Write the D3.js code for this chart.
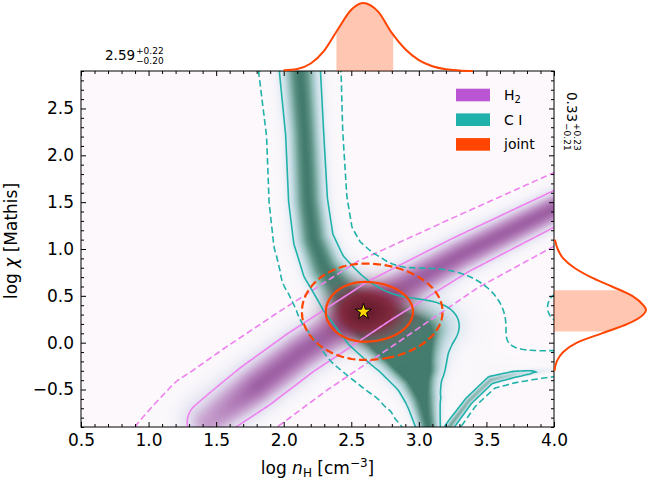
<!DOCTYPE html>
<html>
<head>
<meta charset="utf-8">
<script src="https://cdn.jsdelivr.net/npm/d3@7"></script>
<style>
  body { margin: 0; background: #fff; }
  svg { font-family: "DejaVu Sans", sans-serif; }
</style>
</head>
<body>
<svg id="chart" width="650" height="482"></svg>
<script>
// values
var xTicks = [0.5, 1.0, 1.5, 2.0, 2.5, 3.0, 3.5, 4.0];
var yTicks = [-0.5, 0.0, 0.5, 1.0, 1.5, 2.0, 2.5];

// H2 posterior: ridge line, strength along it and width on each side (dex along x)
var h2Ridge = [[0.90,-1.52],[1.10,-1.28],[1.45,-0.85],[1.80,-0.47],[2.12,-0.11],[2.71,0.45],[3.30,0.93],[4.00,1.43],[4.40,1.70]];
var h2Amp = [0.05,0.12,0.85,1,1,1,1,1,1];
var h2SigmaUp = [0.17,0.18,0.20,0.185,0.17,0.166,0.137,0.122,0.118];
var h2SigmaDown = [0.165,0.165,0.165,0.165,0.17,0.166,0.137,0.122,0.118];
// faint wing on the upper side of the low end
var h2WingAmp = [0.14,0.21,0.27,0.18,0.0];
var h2WingUp = [0.35,0.35,0.33,0.28,0.25];
var h2WingDown = [0.05,0.05,0.05,0.05,0.05];

// CI posterior: main ridge, the thin tongue to the lower right and two shoulders
var ciRidge = [[2.10,3.30],[2.12,2.90],[2.155,2.23],[2.18,1.52],[2.22,1.10],[2.30,0.80],[2.45,0.50],[2.63,0.20],[2.85,-0.08],[2.98,-0.35],[3.03,-0.60],[3.07,-0.90],[3.09,-1.20]];
var ciSigma = [0.155,0.152,0.141,0.144,0.148,0.163,0.185,0.192,0.185,0.160,0.125,0.09,0.085];
var ciTongue = [[3.15,-1.05],[3.25,-0.85],[3.37,-0.62],[3.53,-0.40],[3.70,-0.34],[3.85,-0.31],[4.10,-0.27]];
var tongueAmp = [0.90,0.90,0.86,0.82,0.76,0.62,0.40];
var tongueSigma = [0.035,0.035,0.032,0.032,0.032,0.032,0.032];
var shelfAmp = [0.30,0.30,0.30,0.30,0.30,0.28,0.25];
var shelfUp = [0.104,0.104,0.111,0.118,0.118,0.118,0.118];
var shelfDown = [0.030,0.030,0.030,0.030,0.030,0.030,0.030];
var ciBlobs = [[3.10,0.20,0.296,0.32,0.72],[4.07,0.38,0.089,0.129,0.30]]; // x, y, sx, sy, amp

// joint posterior
var jointCenter = [2.60, 0.33];
var jointSigmaX = [0.19, 0.235];   // left, right
var jointSigmaY = [0.21, 0.21];    // down, up
var bestFit = [2.59, 0.33];

// contour levels (2 sigma, 1 sigma)
var bandLevels = [0.135, 0.607];
var jointLevels = [0.05, 0.317];

// marginals
var margX = [2.0,2.1,2.2,2.3,2.4,2.5,2.585,2.7,2.8,2.9,3.0,3.1,3.2,3.3,3.4];
var margXh = [0.01,0.03,0.11,0.30,0.61,0.90,1.0,0.87,0.56,0.32,0.16,0.07,0.025,0.008,0.0];
var margY = [-0.3,-0.2,-0.1,0.0,0.1,0.2,0.3,0.35,0.4,0.5,0.6,0.7,0.8,0.9,1.0,1.1];
var margYh = [0.005,0.03,0.10,0.25,0.52,0.80,0.97,1.0,0.97,0.85,0.63,0.40,0.22,0.10,0.04,0.01];
var xStat = [2.59, 0.20, 0.22];
var yStat = [0.33, 0.21, 0.23];

var legendNames = ["H", "C I", "joint"];
var legendColors = ["#ba55d3", "#20b2aa", "#ff4500"];

// ------------------------------------------------------------
var L = 81, R = 554, T = 71, B = 427;
var svg = d3.select("#chart");
var x = d3.scaleLinear().domain([0.5, 4.0]).range([L, R]);
var y = d3.scaleLinear().domain([-0.9, 2.9]).range([B, T]);
var kx = x(1) - x(0);

function prepRidge(pts, sA, sB, amp) {
    return {
        p: pts.map(function(d) { return [x(d[0]), y(d[1])]; }),
        a: sA.map(function(s) { return s * kx; }),
        b: (sB || sA).map(function(s) { return s * kx; }),
        amp: amp
    };
}
var h2R = prepRidge(h2Ridge, h2SigmaUp, h2SigmaDown, h2Amp);
var h2W = prepRidge(h2Ridge.slice(0, 5), h2WingUp, h2WingDown, h2WingAmp);
var ciR = prepRidge(ciRidge, ciSigma);
var tcR = prepRidge(ciTongue, tongueSigma, null, tongueAmp);
var tsR = prepRidge(ciTongue, shelfUp, shelfDown, shelfAmp);

function ridgeAt(r, px, py) {
    var best = 0, p = r.p;
    for (var i = 0; i < p.length - 1; i++) {
        var ax = p[i][0], ay = p[i][1], dx = p[i+1][0] - ax, dy = p[i+1][1] - ay;
        var t = ((px - ax) * dx + (py - ay) * dy) / (dx * dx + dy * dy);
        t = Math.max(0, Math.min(1, t));
        var qx = ax + t * dx - px, qy = ay + t * dy - py;
        var cross = dx * (py - ay) - dy * (px - ax);
        var w = cross < 0 ? r.a[i] + (r.a[i+1] - r.a[i]) * t : r.b[i] + (r.b[i+1] - r.b[i]) * t;
        var a = r.amp ? r.amp[i] + (r.amp[i+1] - r.amp[i]) * t : 1;
        var v = a * Math.exp(-0.5 * (qx * qx + qy * qy) / (w * w));
        if (v > best) best = v;
    }
    return best;
}
function h2At(px, py) { return Math.max(ridgeAt(h2R, px, py), ridgeAt(h2W, px, py)); }
function ciAt(px, py) {
    var v = Math.max(ridgeAt(ciR, px, py), ridgeAt(tcR, px, py), ridgeAt(tsR, px, py));
    var X = x.invert(px), Y = y.invert(py);
    ciBlobs.forEach(function(b) {
        var u = (X - b[0]) / b[2], w = (Y - b[1]) / b[3];
        v += b[4] * Math.exp(-0.5 * (u * u + w * w));
    });
    return v;
}
function jointAt(px, py) {
    var dx = x.invert(px) - jointCenter[0], dy = y.invert(py) - jointCenter[1];
    var sx = dx < 0 ? jointSigmaX[0] : jointSigmaX[1];
    var sy = dy < 0 ? jointSigmaY[0] : jointSigmaY[1];
    return Math.exp(-0.5 * ((dx / sx) * (dx / sx) + (dy / sy) * (dy / sy)));
}

// colour tables
function lut(dom, cols) {
    var s = d3.scaleLinear().domain(dom).range(cols).clamp(true);
    return d3.range(256).map(function(i) { return d3.rgb(s(i / 255)); });
}
var h2Lut = lut([0,0.1,0.3,0.55,0.8,1], ["#ffffff","#eff3f8","#e0d9ec","#c9a6d1","#b37fb9","#a064a6"]);
var ciLut = lut([0,0.1,0.3,0.55,0.8,1], ["#ffffff","#eaf4f7","#c6e1e6","#93c1b9","#62998b","#44806f"]);
var jLut = lut([0,0.5,1], ["#b45a6e","#952e45","#6e1a2c"]);
var bg = d3.rgb("#fcf8fc");
function idx(v) { return Math.max(0, Math.min(255, Math.round(v * 255))); }
function shadeH2(v) { return Math.pow(Math.min(1, v), 3.2); }
function shadeCI(v) { return Math.pow(Math.min(1, v), 4); }

// density image
var cw = R - L, ch = B - T;
var canvas = document.createElement("canvas");
canvas.width = cw; canvas.height = ch;
var ctx = canvas.getContext("2d");
var img = ctx.createImageData(cw, ch);
for (var j = 0; j < ch; j++) {
    for (var i = 0; i < cw; i++) {
        var px = L + i + 0.5, py = T + j + 0.5;
        var hc = h2Lut[idx(shadeH2(h2At(px, py)))], cc = ciLut[idx(shadeCI(ciAt(px, py)))];
        var jv = jointAt(px, py), jc = jLut[idx(jv)];
        var al = Math.min(0.92, 1.6 * Math.pow(jv, 1.5));
        var r = bg.r * hc.r / 255 * cc.r / 255,
            g = bg.g * hc.g / 255 * cc.g / 255,
            b = bg.b * hc.b / 255 * cc.b / 255;
        var k = (j * cw + i) * 4;
        img.data[k] = r * (1 - al) + jc.r * al;
        img.data[k+1] = g * (1 - al) + jc.g * al;
        img.data[k+2] = b * (1 - al) + jc.b * al;
        img.data[k+3] = 255;
    }
}
ctx.putImageData(img, 0, 0);

svg.append("clipPath").attr("id", "plotClip")
    .append("rect").attr("x", L).attr("y", T).attr("width", cw).attr("height", ch);

svg.append("image").attr("x", L).attr("y", T).attr("width", cw).attr("height", ch)
    .attr("preserveAspectRatio", "none")
    .attr("href", canvas.toDataURL());

// contours
var step = 2, nx = Math.ceil(cw / step), ny = Math.ceil(ch / step);
function grid(fn) {
    var v = new Float64Array(nx * ny);
    for (var j = 0; j < ny; j++)
        for (var i = 0; i < nx; i++)
            v[j * nx + i] = fn(L + (i + 0.5) * step, T + (j + 0.5) * step);
    return v;
}
function contourLines(values, level) {
    var c = d3.contours().size([nx, ny]).thresholds([level])(values)[0];
    var onEdge = function(p) { return p[0] <= 0 || p[0] >= nx || p[1] <= 0 || p[1] >= ny; };
    var segs = [];
    c.coordinates.forEach(function(poly) {
        poly.forEach(function(ring) {
            var cur = [];
            ring.forEach(function(p) {
                if (cur.length && onEdge(p) && onEdge(cur[cur.length - 1])) {
                    if (cur.length > 1) segs.push(cur);
                    cur = [];
                }
                cur.push(p);
            });
            if (cur.length > 1) segs.push(cur);
        });
    });
    return segs.map(function(s) { return s.map(function(p) { return [L + p[0] * step, T + p[1] * step]; }); });
}
var line = d3.line();
var cg = svg.append("g").attr("clip-path", "url(#plotClip)").attr("fill", "none");
function drawContours(values, levels, color, width, dash) {
    levels.forEach(function(lv, li) {
        cg.selectAll(null).data(contourLines(values, lv)).enter().append("path")
            .attr("d", line)
            .attr("stroke", color)
            .attr("stroke-width", width)
            .attr("stroke-dasharray", li === 0 ? dash : null);
    });
}
drawContours(grid(h2At), bandLevels, "#ee82ee", 1.6, "6.5,3.3");
drawContours(grid(ciAt), bandLevels, "#20b2aa", 1.6, "6.5,3.3");
drawContours(grid(jointAt), jointLevels, "#ff4500", 2.2, "8,3.6");

// best fit star
svg.append("path")
    .attr("transform", "translate(" + x(bestFit[0]) + "," + y(bestFit[1]) + ")")
    .attr("d", d3.symbol().type(d3.symbolStar).size(80)())
    .attr("fill", "#ffd700").attr("stroke", "#000").attr("stroke-width", 1);

// axes
function ax(gen, tx, ty, vals, size, labels) {
    var g = svg.append("g").attr("transform", "translate(" + tx + "," + ty + ")")
        .call(gen.tickValues(vals).tickSize(-size).tickPadding(7)
            .tickFormat(labels ? d3.format(".1f") : ""));
    g.select(".domain").remove();
    g.selectAll("line").attr("stroke", "#000").attr("stroke-width", 1);
    g.selectAll("text").attr("font-size", 17).attr("fill", "#000")
        .attr("font-family", "DejaVu Sans, sans-serif")
        .text(function(d) { return labels ? d3.format(".1f")(d).replace("-", "\u2212") : ""; });
    return g;
}
var xMinor = d3.range(5, 41).map(function(v) { return v / 10; }).filter(function(v) { return Math.abs(v * 2 - Math.round(v * 2)) > 1e-6; });
var yMinor = d3.range(-9, 30).map(function(v) { return v / 10; }).filter(function(v) { return Math.abs(v * 2 - Math.round(v * 2)) > 1e-6; });
ax(d3.axisBottom(x), 0, B, xTicks, 5, true);
ax(d3.axisBottom(x), 0, B, xMinor, 3, false);
ax(d3.axisTop(x), 0, T, xTicks, 5, false);
ax(d3.axisTop(x), 0, T, xMinor, 3, false);
ax(d3.axisLeft(y), L, 0, yTicks, 5, true);
ax(d3.axisLeft(y), L, 0, yMinor, 3, false);
ax(d3.axisRight(y), R, 0, yTicks, 5, false);
ax(d3.axisRight(y), R, 0, yMinor, 3, false);
svg.append("rect").attr("x", L).attr("y", T).attr("width", cw).attr("height", ch)
    .attr("fill", "none").attr("stroke", "#000").attr("stroke-width", 1);

// axis labels
var xl = svg.append("text").attr("x", (L + R) / 2).attr("y", 474)
    .attr("text-anchor", "middle").attr("font-size", 17);
xl.append("tspan").text("log ");
xl.append("tspan").attr("font-style", "italic").text("n");
xl.append("tspan").attr("font-size", 12).attr("dy", 3).text("H");
xl.append("tspan").attr("dy", -3).text(" [cm");
xl.append("tspan").attr("font-size", 12).attr("dy", -7).text("\u22123");
xl.append("tspan").attr("dy", 7).text("]");

var yl = svg.append("text").attr("transform", "translate(16.5,241) rotate(-90)")
    .attr("text-anchor", "middle").attr("font-size", 17);
yl.append("tspan").text("log ");
yl.append("tspan").attr("font-style", "italic").text("\u03c7");
yl.append("tspan").text(" [Mathis]");

// marginal distributions
var hTop = d3.scaleLinear().domain([0, 1]).range([T, 3]);
var hRight = d3.scaleLinear().domain([0, 1]).range([R, 646]);
var topData = margX.map(function(v, i) { return [v, margXh[i]]; });
var rightData = margY.map(function(v, i) { return [v, margYh[i]]; });

svg.append("clipPath").attr("id", "topShade").append("rect")
    .attr("x", x(xStat[0] - xStat[1])).attr("y", 0)
    .attr("width", x(xStat[0] + xStat[2]) - x(xStat[0] - xStat[1])).attr("height", T);
svg.append("path").datum(topData).attr("clip-path", "url(#topShade)")
    .attr("fill", "#ff4500").attr("fill-opacity", 0.3)
    .attr("d", d3.area().x(function(d) { return x(d[0]); }).y0(T).y1(function(d) { return hTop(d[1]); }).curve(d3.curveMonotoneX));
svg.append("path").datum(topData).attr("fill", "none").attr("stroke", "#ff4500").attr("stroke-width", 2)
    .attr("d", d3.line().x(function(d) { return x(d[0]); }).y(function(d) { return hTop(d[1]); }).curve(d3.curveMonotoneX));

svg.append("clipPath").attr("id", "rightShade").append("rect")
    .attr("x", R).attr("y", y(yStat[0] + yStat[2]))
    .attr("width", 100).attr("height", y(yStat[0] - yStat[1]) - y(yStat[0] + yStat[2]));
svg.append("path").datum(rightData).attr("clip-path", "url(#rightShade)")
    .attr("fill", "#ff4500").attr("fill-opacity", 0.3)
    .attr("d", d3.area().y(function(d) { return y(d[0]); }).x0(R).x1(function(d) { return hRight(d[1]); }).curve(d3.curveMonotoneY));
svg.append("path").datum(rightData).attr("fill", "none").attr("stroke", "#ff4500").attr("stroke-width", 2)
    .attr("d", d3.line().y(function(d) { return y(d[0]); }).x(function(d) { return hRight(d[1]); }).curve(d3.curveMonotoneY));

// statistic labels
function statLabel(g, s) {
    var main = g.append("text").attr("font-size", 13.5).text(s[0].toFixed(2));
    var w = main.node().getComputedTextLength() + 1;
    g.append("text").attr("x", w).attr("y", -6.5).attr("font-size", 9).text("+" + s[2].toFixed(2));
    g.append("text").attr("x", w).attr("y", 3.5).attr("font-size", 9).text("\u2212" + s[1].toFixed(2));
}
statLabel(svg.append("g").attr("transform", "translate(105,60)"), xStat);
statLabel(svg.append("g").attr("transform", "translate(567,92) rotate(90)"), yStat);

// legend
var lg = svg.append("g");
legendNames.forEach(function(n, i) {
    var cy = 95 + i * 24.7;
    lg.append("rect").attr("x", 456).attr("y", cy - 6.3).attr("width", 34).attr("height", 12.6)
        .attr("fill", legendColors[i]);
    var t = lg.append("text").attr("x", 504).attr("y", cy + 5).attr("font-size", 14).text(n);
    if (i === 0) t.append("tspan").attr("font-size", 10).attr("dy", 3).text("2");
});
</script>
</body>
</html>
